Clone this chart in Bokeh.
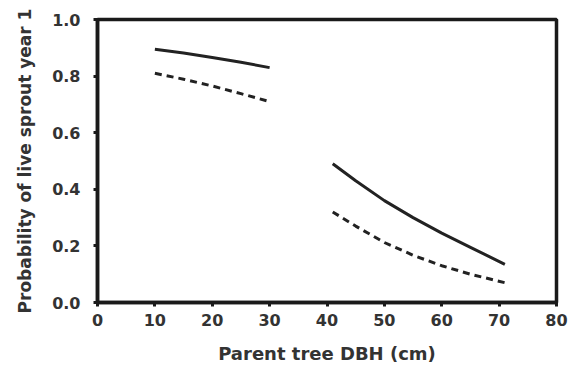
from bokeh.plotting import figure
from bokeh.embed import file_html
from bokeh.resources import INLINE
from bokeh.models import Range1d, FixedTicker, CustomJSTickFormatter

# Segment 1 (small trees)
dbh_small = [10, 15, 20, 25, 30]
solid_small = [0.895, 0.882, 0.866, 0.849, 0.830]
dashed_small = [0.810, 0.789, 0.765, 0.738, 0.710]

# Segment 2 (large trees)
dbh_large = [41, 45, 50, 55, 60, 65, 71]
solid_large = [0.490, 0.430, 0.360, 0.300, 0.245, 0.195, 0.135]
dashed_large = [0.320, 0.270, 0.212, 0.167, 0.130, 0.100, 0.070]

x_ticks = [0, 10, 20, 30, 40, 50, 60, 70, 80]
y_ticks = [0.0, 0.2, 0.4, 0.6, 0.8, 1.0]

p = figure(width=575, height=373, output_backend="svg", toolbar_location=None,
           x_range=Range1d(0, 80), y_range=Range1d(0, 1.0),
           min_border_left=97, min_border_right=19, min_border_top=19, min_border_bottom=71)

p.line(dbh_small, solid_small, line_color="#222222", line_width=3)
p.line(dbh_small, dashed_small, line_color="#222222", line_width=3, line_dash="7 5")
p.line(dbh_large, solid_large, line_color="#222222", line_width=3)
p.line(dbh_large, dashed_large, line_color="#222222", line_width=3, line_dash="7 5")

p.grid.visible = False
p.outline_line_color = "#1a1a1a"
p.outline_line_width = 3.5
p.outline_line_alpha = 1.0

p.xaxis.ticker = FixedTicker(ticks=x_ticks)
p.yaxis.ticker = FixedTicker(ticks=y_ticks)
p.yaxis.formatter = CustomJSTickFormatter(code="return tick.toFixed(1);")

for ax in (p.xaxis[0], p.yaxis[0]):
    ax.axis_line_width = 3.5
    ax.axis_line_color = "#1a1a1a"
    ax.major_tick_out = 4
    ax.major_tick_in = 0
    ax.major_tick_line_width = 3
    ax.major_tick_line_color = "#1a1a1a"
    ax.minor_tick_line_color = None
    ax.major_label_text_font = "DejaVu Sans"
    ax.major_label_text_font_style = "bold"
    ax.major_label_text_font_size = "16px"
    ax.major_label_text_color = "#333333"
    ax.axis_label_text_font = "DejaVu Sans"
    ax.axis_label_text_font_style = "bold"
    ax.axis_label_text_color = "#333333"

p.xaxis.axis_label_text_font_size = "18px"
p.yaxis.axis_label_text_font_size = "17px"
p.xaxis.axis_label = "Parent tree DBH (cm)"
p.yaxis.axis_label = "Probability of live sprout year 1"
p.xaxis.major_label_standoff = 7
p.yaxis.major_label_standoff = 13
p.xaxis.axis_label_standoff = 14
p.yaxis.axis_label_standoff = 14

open("out.html", "w").write(file_html(p, INLINE))
